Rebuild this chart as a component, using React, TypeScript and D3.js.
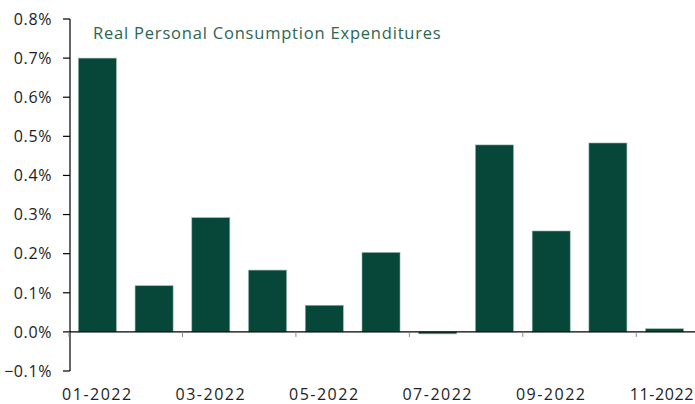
import React from "react";
import * as d3 from "d3";

const months = ["01-2022","02-2022","03-2022","04-2022","05-2022","06-2022","07-2022","08-2022","09-2022","10-2022","11-2022"];
const values = [0.70, 0.118, 0.292, 0.158, 0.068, 0.203, -0.005, 0.478, 0.258, 0.483, 0.008];
const yTicks = [-0.1, 0, 0.1, 0.2, 0.3, 0.4, 0.5, 0.6, 0.7, 0.8];
const title = "Real Personal Consumption Expenditures";

const W = 695, H = 404;
const FONT = "'Open Sans', sans-serif";

export default function App() {
  const x = d3.scaleBand<string>().domain(months).range([69, 693]).paddingInner(0.33).paddingOuter(0.165);
  const y = d3.scaleLinear().domain([-0.1, 0.8]).range([371, 19]);
  const step = x.step();
  const x0 = x.range()[0];
  return (
    <svg width={W} height={H} style={{ position: "absolute", left: 0, top: 0 }}>
      <rect width={W} height={H} fill="#fff" />
      {months.map((m, i) => {
        const v = values[i];
        const y1 = y(Math.max(v, 0)), y2 = y(Math.min(v, 0));
        return <rect key={m} x={x(m)} y={y1} width={x.bandwidth()} height={Math.max(y2 - y1, 1.5)} fill="#06473A" stroke="#8fb3a6" strokeWidth={0.6} />;
      })}
      <line x1={70} x2={70} y1={y(0.8)} y2={y(-0.1)} stroke="#000" strokeWidth={1.2} />
      {yTicks.map(t => (
        <g key={t}>
          <line x1={63} x2={70} y1={y(t)} y2={y(t)} stroke="#000" strokeWidth={1.2} />
          <text x={52} y={y(t)} dy="0.36em" textAnchor="end" fontFamily={FONT} fontSize={16} letterSpacing={0.6} fill="#222">{d3.format(".1%")(t / 100)}</text>
        </g>
      ))}
      <line x1={70} x2={W} y1={y(0)} y2={y(0)} stroke="#000" strokeWidth={1.2} />
      {months.map((m, i) => {
        if (i % 2 !== 0) return null;
        const cx = (x(m) as number) + x.bandwidth() / 2;
        const last = i === months.length - 1;
        return (
          <g key={m}>
            <line x1={x0 + i * step} x2={x0 + i * step} y1={y(0)} y2={y(0) + 5} stroke="#888" strokeWidth={1} />
            <text x={last ? W - 1 : cx} y={400} textAnchor={last ? "end" : "middle"} fontFamily={FONT} fontSize={16} letterSpacing={last ? 0.6 : 1.5} fill="#222">{m}</text>
          </g>
        );
      })}
      <text x={93} y={39} fontFamily={FONT} fontSize={16.5} letterSpacing={0.8} fill="#2a6652">{title}</text>
    </svg>
  );
}
